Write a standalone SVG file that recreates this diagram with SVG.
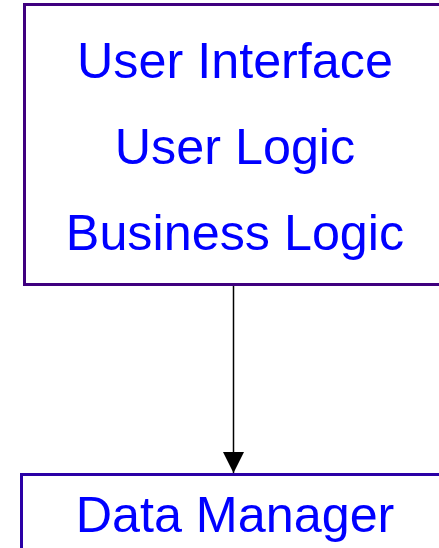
<svg xmlns="http://www.w3.org/2000/svg" width="439" height="548" viewBox="0 0 439 548">
  <defs>
    <marker id="arrow" markerWidth="22" markerHeight="21" refX="21" refY="10.5" orient="auto" markerUnits="userSpaceOnUse">
      <path d="M0,0 L21,10.5 L0,21 Z" fill="#000"/>
    </marker>
    <style>
      .label { font-family: "Liberation Sans", Arial, sans-serif; font-size: 50.3px; fill: #0000ff; text-anchor: middle; }
      .box { fill: #ffffff; stroke-width: 3; }
    </style>
  </defs>
  <rect width="439" height="548" fill="#ffffff"/>
  <g id="client">
    <rect class="box" x="24.5" y="4.5" width="420" height="280" stroke="#3f007f"/>
    <text class="label" x="235" y="78">User Interface</text>
    <text class="label" x="235" y="164">User Logic</text>
    <text class="label" x="235" y="249.5">Business Logic</text>
  </g>
  <g id="data-manager">
    <rect class="box" x="21.5" y="474.5" width="425" height="90" stroke="#2a00a6"/>
    <text class="label" x="235" y="531.5">Data Manager</text>
  </g>
  <g id="connectors">
    <line x1="233.5" y1="286" x2="233.5" y2="473" stroke="#000" stroke-width="1.5" marker-end="url(#arrow)"/>
  </g>
</svg>
